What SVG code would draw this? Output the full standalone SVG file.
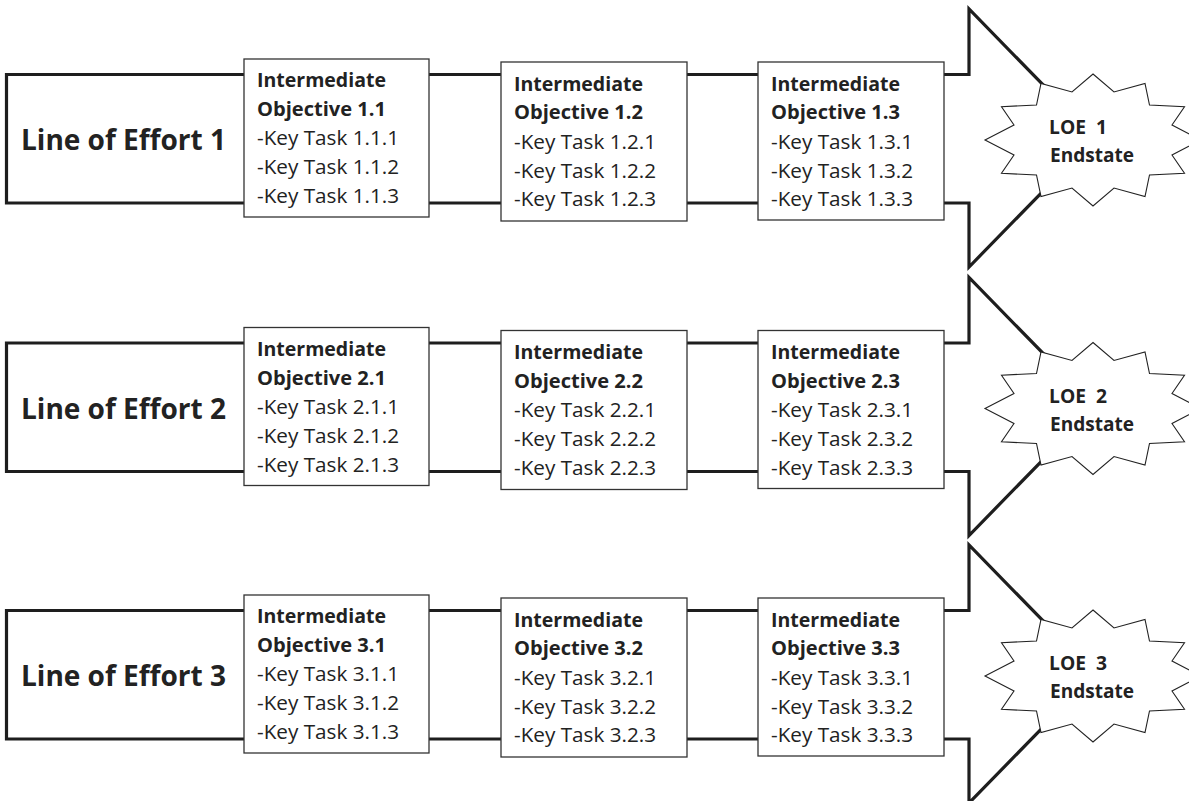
<svg xmlns="http://www.w3.org/2000/svg" width="1189" height="801" viewBox="0 0 1189 801">
<style>
.arrow{fill:#fff;stroke:#1e1e1e;stroke-width:3.2;stroke-linejoin:miter}
.box{fill:#fff;stroke:#333;stroke-width:1.3}
.star{fill:#fff;stroke:#222;stroke-width:1.1;stroke-linejoin:miter}
.t{font-family:"Open Sans","Noto Sans","Liberation Sans",sans-serif;fill:#222;font-size:20px}
.b{font-weight:bold;font-size:19px}
.big{font-family:"Open Sans","Noto Sans","Liberation Sans",sans-serif;fill:#222;font-size:28px;font-weight:bold}
.st{font-family:"Open Sans","Noto Sans","Liberation Sans",sans-serif;fill:#222;font-size:19.5px;font-weight:bold}
</style>
<defs>
<path id="arrowShape" d="M6.5,74.5 H969 V9 L1095,138 L969,267 V203 H6.5 Z"/>
<polygon id="starShape" points="0,-66 21,-48 52,-56.5 56.5,-35 91.5,-33.3 79,-15 108,0 79,15 91.5,33.3 56.5,35 52,56.5 21,48 0,66 -21,48 -52,56.5 -56.5,35 -91.5,33.3 -79,15 -108,0 -79,-15 -91.5,-33.3 -56.5,-35 -52,-56.5 -21,-48"/>
</defs>
<rect width="1189" height="801" fill="#fff"/>
<g id="connectors">
<use href="#arrowShape" class="arrow"/>
<use href="#arrowShape" class="arrow" transform="translate(0,268.5)"/>
<use href="#arrowShape" class="arrow" transform="translate(0,536)"/>
</g>
<g id="loe1">
<text class="big" x="21" y="150" textLength="205" lengthAdjust="spacingAndGlyphs">Line of Effort 1</text>
</g>
<g id="loe2">
<text class="big" x="21" y="418.5" textLength="205" lengthAdjust="spacingAndGlyphs">Line of Effort 2</text>
</g>
<g id="loe3">
<text class="big" x="21" y="686" textLength="205" lengthAdjust="spacingAndGlyphs">Line of Effort 3</text>
</g>
<g id="obj1-1">
<rect class="box" x="244" y="59" width="185" height="158"/>
<text class="t b" x="257" y="87" textLength="129" lengthAdjust="spacingAndGlyphs">Intermediate</text>
<text class="t b" x="257" y="116" textLength="129" lengthAdjust="spacingAndGlyphs">Objective 1.1</text>
<text class="t" x="257" y="145" textLength="142" lengthAdjust="spacingAndGlyphs">-Key Task 1.1.1</text>
<text class="t" x="257" y="174" textLength="142" lengthAdjust="spacingAndGlyphs">-Key Task 1.1.2</text>
<text class="t" x="257" y="203" textLength="142" lengthAdjust="spacingAndGlyphs">-Key Task 1.1.3</text>
</g>
<g id="obj1-2">
<rect class="box" x="501" y="62" width="186" height="159"/>
<text class="t b" x="514" y="90.5" textLength="129" lengthAdjust="spacingAndGlyphs">Intermediate</text>
<text class="t b" x="514" y="119" textLength="129" lengthAdjust="spacingAndGlyphs">Objective 1.2</text>
<text class="t" x="514" y="148.5" textLength="142" lengthAdjust="spacingAndGlyphs">-Key Task 1.2.1</text>
<text class="t" x="514" y="177.5" textLength="142" lengthAdjust="spacingAndGlyphs">-Key Task 1.2.2</text>
<text class="t" x="514" y="206" textLength="142" lengthAdjust="spacingAndGlyphs">-Key Task 1.2.3</text>
</g>
<g id="obj1-3">
<rect class="box" x="758" y="62" width="186" height="158"/>
<text class="t b" x="771" y="90.5" textLength="129" lengthAdjust="spacingAndGlyphs">Intermediate</text>
<text class="t b" x="771" y="119" textLength="129" lengthAdjust="spacingAndGlyphs">Objective 1.3</text>
<text class="t" x="771" y="148.5" textLength="142" lengthAdjust="spacingAndGlyphs">-Key Task 1.3.1</text>
<text class="t" x="771" y="177.5" textLength="142" lengthAdjust="spacingAndGlyphs">-Key Task 1.3.2</text>
<text class="t" x="771" y="206" textLength="142" lengthAdjust="spacingAndGlyphs">-Key Task 1.3.3</text>
</g>
<g id="end1">
<use href="#starShape" class="star" transform="translate(1093,140)"/>
<text class="st" x="1049" y="134" textLength="58" lengthAdjust="spacingAndGlyphs" xml:space="preserve">LOE  1</text>
<text class="st" x="1050" y="162" textLength="84" lengthAdjust="spacingAndGlyphs">Endstate</text>
</g>
<g id="obj2-1">
<rect class="box" x="244" y="327.5" width="185" height="158"/>
<text class="t b" x="257" y="355.5" textLength="129" lengthAdjust="spacingAndGlyphs">Intermediate</text>
<text class="t b" x="257" y="384.5" textLength="129" lengthAdjust="spacingAndGlyphs">Objective 2.1</text>
<text class="t" x="257" y="413.5" textLength="142" lengthAdjust="spacingAndGlyphs">-Key Task 2.1.1</text>
<text class="t" x="257" y="442.5" textLength="142" lengthAdjust="spacingAndGlyphs">-Key Task 2.1.2</text>
<text class="t" x="257" y="471.5" textLength="142" lengthAdjust="spacingAndGlyphs">-Key Task 2.1.3</text>
</g>
<g id="obj2-2">
<rect class="box" x="501" y="330.5" width="186" height="159"/>
<text class="t b" x="514" y="359" textLength="129" lengthAdjust="spacingAndGlyphs">Intermediate</text>
<text class="t b" x="514" y="387.5" textLength="129" lengthAdjust="spacingAndGlyphs">Objective 2.2</text>
<text class="t" x="514" y="417" textLength="142" lengthAdjust="spacingAndGlyphs">-Key Task 2.2.1</text>
<text class="t" x="514" y="446" textLength="142" lengthAdjust="spacingAndGlyphs">-Key Task 2.2.2</text>
<text class="t" x="514" y="474.5" textLength="142" lengthAdjust="spacingAndGlyphs">-Key Task 2.2.3</text>
</g>
<g id="obj2-3">
<rect class="box" x="758" y="330.5" width="186" height="158"/>
<text class="t b" x="771" y="359" textLength="129" lengthAdjust="spacingAndGlyphs">Intermediate</text>
<text class="t b" x="771" y="387.5" textLength="129" lengthAdjust="spacingAndGlyphs">Objective 2.3</text>
<text class="t" x="771" y="417" textLength="142" lengthAdjust="spacingAndGlyphs">-Key Task 2.3.1</text>
<text class="t" x="771" y="446" textLength="142" lengthAdjust="spacingAndGlyphs">-Key Task 2.3.2</text>
<text class="t" x="771" y="474.5" textLength="142" lengthAdjust="spacingAndGlyphs">-Key Task 2.3.3</text>
</g>
<g id="end2">
<use href="#starShape" class="star" transform="translate(1093,408.5)"/>
<text class="st" x="1049" y="402.5" textLength="58" lengthAdjust="spacingAndGlyphs" xml:space="preserve">LOE  2</text>
<text class="st" x="1050" y="430.5" textLength="84" lengthAdjust="spacingAndGlyphs">Endstate</text>
</g>
<g id="obj3-1">
<rect class="box" x="244" y="595" width="185" height="158"/>
<text class="t b" x="257" y="623" textLength="129" lengthAdjust="spacingAndGlyphs">Intermediate</text>
<text class="t b" x="257" y="652" textLength="129" lengthAdjust="spacingAndGlyphs">Objective 3.1</text>
<text class="t" x="257" y="681" textLength="142" lengthAdjust="spacingAndGlyphs">-Key Task 3.1.1</text>
<text class="t" x="257" y="710" textLength="142" lengthAdjust="spacingAndGlyphs">-Key Task 3.1.2</text>
<text class="t" x="257" y="739" textLength="142" lengthAdjust="spacingAndGlyphs">-Key Task 3.1.3</text>
</g>
<g id="obj3-2">
<rect class="box" x="501" y="598" width="186" height="159"/>
<text class="t b" x="514" y="626.5" textLength="129" lengthAdjust="spacingAndGlyphs">Intermediate</text>
<text class="t b" x="514" y="655" textLength="129" lengthAdjust="spacingAndGlyphs">Objective 3.2</text>
<text class="t" x="514" y="684.5" textLength="142" lengthAdjust="spacingAndGlyphs">-Key Task 3.2.1</text>
<text class="t" x="514" y="713.5" textLength="142" lengthAdjust="spacingAndGlyphs">-Key Task 3.2.2</text>
<text class="t" x="514" y="742" textLength="142" lengthAdjust="spacingAndGlyphs">-Key Task 3.2.3</text>
</g>
<g id="obj3-3">
<rect class="box" x="758" y="598" width="186" height="158"/>
<text class="t b" x="771" y="626.5" textLength="129" lengthAdjust="spacingAndGlyphs">Intermediate</text>
<text class="t b" x="771" y="655" textLength="129" lengthAdjust="spacingAndGlyphs">Objective 3.3</text>
<text class="t" x="771" y="684.5" textLength="142" lengthAdjust="spacingAndGlyphs">-Key Task 3.3.1</text>
<text class="t" x="771" y="713.5" textLength="142" lengthAdjust="spacingAndGlyphs">-Key Task 3.3.2</text>
<text class="t" x="771" y="742" textLength="142" lengthAdjust="spacingAndGlyphs">-Key Task 3.3.3</text>
</g>
<g id="end3">
<use href="#starShape" class="star" transform="translate(1093,676)"/>
<text class="st" x="1049" y="670" textLength="58" lengthAdjust="spacingAndGlyphs" xml:space="preserve">LOE  3</text>
<text class="st" x="1050" y="698" textLength="84" lengthAdjust="spacingAndGlyphs">Endstate</text>
</g>
</svg>
